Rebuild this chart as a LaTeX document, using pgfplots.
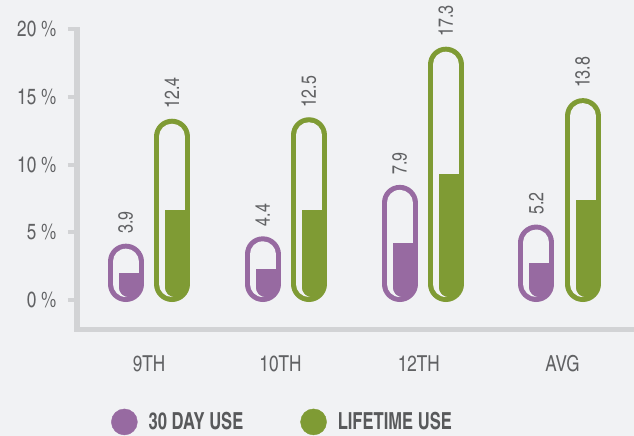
\documentclass[border=0pt]{standalone}
\usepackage{fontspec}
\setmainfont{texgyreheroscn}[Extension=.otf, UprightFont=*-regular, BoldFont=*-bold, ItalicFont=*-italic, BoldItalicFont=*-bolditalic, FakeStretch=0.95]
\newfontfamily\legfont{texgyreheroscn}[Extension=.otf, UprightFont=*-bold, FakeStretch=0.86]
\usepackage{pgfplots}
\usepackage{pgfplotstable}
\pgfplotsset{compat=1.18}
\definecolor{bgc}{HTML}{F1F2F4}
\definecolor{axisc}{HTML}{D2D3D5}
\definecolor{pur}{HTML}{976AA1}
\definecolor{grn}{HTML}{7F9B34}
\definecolor{tickc}{HTML}{606163}
\definecolor{legc}{HTML}{58595B}

\pgfplotstableread{
x v
0 3.9
1 4.4
2 7.9
3 5.2
}\dayuse
\pgfplotstableread{
x v
0 12.4
1 12.5
2 17.3
3 13.8
}\lifeuse

\pgfplotsset{
  pillbar/.style n args={3}{forget plot, draw=none, mark=none,
    error bars/y dir=both, error bars/y explicit, error bars/error mark=none,
    error bars/error bar style={line width=#1, line cap=#3, draw=#2, solid}},
  pilllabel/.style={forget plot, draw=none, mark=none, nodes near coords,
    point meta=explicit symbolic,
    every node near coord/.append style={rotate=90, anchor=west, inner sep=0pt,
      font=\fontsize{20.5bp}{24bp}\selectfont, text=tickc}},
}

\begin{document}
\begin{tikzpicture}
\path[use as bounding box, fill=bgc] (0,0) rectangle (634bp,436bp);
\begin{axis}[
  at={(77bp,106.5bp)}, anchor=south west,
  x=136.9bp, y=13.53bp,
  xmin=-0.526, xmax=3.543,
  ymin=-2.18, ymax=20,
  clip=false,
  axis lines=left,
  axis line style={-, line width=5bp, draw=axisc, line cap=rect},
  ytick={0,5,10,15,20},
  yticklabel={\pgfmathprintnumber{\tick}~\%},
  /pgf/number format/assume math mode=true,
  ytick style={line width=4bp, draw=axisc},
  tick align=outside,
  major tick length=9bp,
  xtick={0,0.96,1.97,3.02},
  xticklabels={9TH,10TH,12TH,AVG},
  xtick style={draw=none},
  yticklabel style={anchor=east, inner sep=0pt, xshift=-11.5bp, font=\fontsize{22bp}{26bp}\selectfont, text=tickc},
  xticklabel style={anchor=north, inner sep=0pt, yshift=-17bp, font=\fontsize{22bp}{26bp}\selectfont, text=tickc},
  legend columns=2,
  legend style={at={(0.061,-0.308)}, anchor=west, draw=none, fill=none, inner sep=0pt,
    font=\legfont\fontsize{23.5bp}{26bp}\selectfont, text=legc, nodes={inner sep=0pt},
    /tikz/every odd column/.append style={column sep=11bp},
    /tikz/every even column/.append style={column sep=57bp}},
]
% 30 day use
\addplot[pillbar={36bp}{pur}{round}] table[x expr=\thisrow{x}-0.170, y expr=0.54325*\thisrow{v}-0.1109, y error expr=0.54325*\thisrow{v}-1.2935] {\dayuse};
\addplot[pillbar={26bp}{bgc}{round}] table[x expr=\thisrow{x}-0.170, y expr=0.54325*\thisrow{v}-0.1109, y error expr=0.54325*\thisrow{v}-1.2935] {\dayuse};
\addplot[pillbar={20bp}{pur}{round}] table[x expr=\thisrow{x}-0.148, y expr=0.9608+0*\thisrow{v}, y error expr=0.002+0*\thisrow{v}] {\dayuse};
\addplot[pillbar={20bp}{pur}{butt}] table[x expr=\thisrow{x}-0.148, y expr=0.271625*\thisrow{v}+0.42495, y error expr=0.271625*\thisrow{v}-0.53585] {\dayuse};
\addplot[pilllabel] table[x expr=\thisrow{x}-0.170, y expr=1.0865*\thisrow{v}+0.6652, meta=v] {\dayuse};
% lifetime use
\addplot[pillbar={36bp}{grn}{round}] table[x expr=\thisrow{x}+0.168, y expr=0.54325*\thisrow{v}-0.1109, y error expr=0.54325*\thisrow{v}-1.2935] {\lifeuse};
\addplot[pillbar={26bp}{bgc}{round}] table[x expr=\thisrow{x}+0.168, y expr=0.54325*\thisrow{v}-0.1109, y error expr=0.54325*\thisrow{v}-1.2935] {\lifeuse};
\addplot[pillbar={20bp}{grn}{round}] table[x expr=\thisrow{x}+0.190, y expr=0.9608+0*\thisrow{v}, y error expr=0.002+0*\thisrow{v}] {\lifeuse};
\addplot[pillbar={20bp}{grn}{butt}] table[x expr=\thisrow{x}+0.190, y expr=0.271625*\thisrow{v}+0.42495, y error expr=0.271625*\thisrow{v}-0.53585] {\lifeuse};
\addplot[pilllabel] table[x expr=\thisrow{x}+0.168, y expr=1.0865*\thisrow{v}+0.6652, meta=v] {\lifeuse};
% legend
\addlegendimage{legend image code/.code={\fill[pur] (13bp,0bp) circle (13bp);}}
\addlegendentry{30 DAY USE}
\addlegendimage{legend image code/.code={\fill[grn] (13bp,0bp) circle (13bp);}}
\addlegendentry{LIFETIME USE}
\end{axis}
\end{tikzpicture}
\end{document}
